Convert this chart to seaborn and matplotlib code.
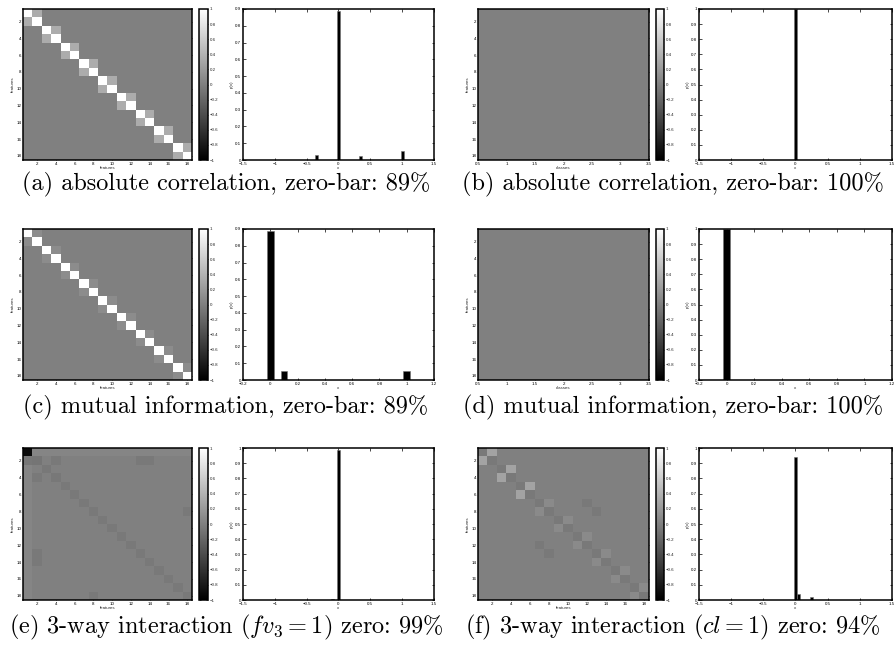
import numpy as np
import pandas as pd
import matplotlib
matplotlib.use("Agg")
import matplotlib.pyplot as plt
import seaborn as sns

# ---------------- data ----------------
n_features = 18
n_classes = 3
feature_ticks = [2, 4, 6, 8, 10, 12, 14, 16, 18]
class_ticks = [0.5, 1, 1.5, 2, 2.5, 3, 3.5]
cbar_ticks = [-1, -0.8, -0.6, -0.4, -0.2, 0, 0.2, 0.4, 0.6, 0.8, 1]

# (a) absolute correlation: diagonal and 2x2-block partner values
a_diag = [1.0] * 18
a_pair = [0.35, 0.35, 0.35, 0.35, 0.35, 0.35, 0.35, 0.35, 0.35]
# (c) mutual information
c_diag = [1.0] * 18
c_pair = [0.1, 0.1, 0.1, 0.1, 0.1, 0.1, 0.1, 0.1, 0.1]
# (e) 3-way interaction fv3=1 : (row, col, value), 1-based
e_cells = [(1, 1, -0.92), (2, 1, -0.07), (2, 2, -0.08), (2, 4, -0.05),
           (2, 13, -0.05), (2, 14, -0.05), (3, 3, -0.06), (4, 2, -0.05),
           (4, 4, -0.06), (5, 5, -0.05), (6, 6, -0.05), (7, 7, -0.05),
           (8, 8, -0.05), (9, 9, -0.05), (10, 10, -0.05), (11, 11, -0.05),
           (12, 12, -0.05), (13, 13, -0.05), (14, 14, -0.05), (15, 15, -0.05),
           (16, 16, -0.05), (17, 17, -0.05), (18, 18, -0.05), (8, 18, -0.05),
           (18, 8, -0.05), (13, 2, -0.05), (14, 2, -0.05)]
e_row1_level = 0.04
e_col1_level = 0.04
# (f) 3-way interaction cl=1
f_diag = [-0.05] * 18
f_pair = [0.28, 0.28, 0.28, 0.08, 0.08, 0.08, 0.08, 0.08, 0.08]
f_extra = [(7, 12, -0.05), (8, 13, -0.05), (12, 7, -0.05), (13, 8, -0.05)]

# histograms p(x)
bar_a_x = [-0.35, 0.0, 0.35, 1.0]
bar_a_y = [0.031, 0.889, 0.025, 0.056]
bar_b_x = [0.0]
bar_b_y = [1.0]
bar_c_x = [0.0, 0.1, 1.0]
bar_c_y = [0.889, 0.056, 0.056]
bar_d_x = [0.0]
bar_d_y = [1.0]
bar_e_x = [-0.1, 0.0]
bar_e_y = [0.008, 0.986]
bar_f_x = [0.0, 0.047, 0.25]
bar_f_y = [0.944, 0.038, 0.018]

captions = [
    "(a) absolute correlation, zero-bar: 89%",
    "(b) absolute correlation, zero-bar: 100%",
    "(c) mutual information, zero-bar: 89%",
    "(d) mutual information, zero-bar: 100%",
    r"(e) 3-way interaction ($fv_3 = 1$) zero: 99%",
    r"(f) 3-way interaction ($cl = 1$) zero: 94%",
]


def block_matrix(diag, pair):
    m = np.zeros((n_features, n_features))
    for i, v in enumerate(diag):
        m[i, i] = v
    for k, v in enumerate(pair):
        m[2 * k, 2 * k + 1] = v
        m[2 * k + 1, 2 * k] = v
    return m


mat_a = block_matrix(a_diag, a_pair)
mat_c = block_matrix(c_diag, c_pair)
mat_e = np.zeros((n_features, n_features))
mat_e[0, :] = e_row1_level
mat_e[:, 0] = e_col1_level
for r, c, v in e_cells:
    mat_e[r - 1, c - 1] = v
mat_f = block_matrix(f_diag, f_pair)
for r, c, v in f_extra:
    mat_f[r - 1, c - 1] = v
mat_b = np.zeros((n_features, n_classes))
mat_d = np.zeros((n_features, n_classes))

# ---------------- style ----------------
sns.set_theme(style="white")
plt.rcParams["font.family"] = ["Liberation Sans", "DejaVu Sans"]
plt.rcParams["mathtext.fontset"] = "cm"

W, H = 895, 649
fig = plt.figure(figsize=(W / 100, H / 100), dpi=100)
fig.patch.set_facecolor("white")


def rect(l, t, r, b):
    return [l / W, 1 - b / H, (r - l) / W, (b - t) / H]


TICK_FS = 3.2
LW = 1.1


def style_axes(ax):
    for s in ax.spines.values():
        s.set_visible(True)
        s.set_color("black")
        s.set_linewidth(LW)
    ax.tick_params(direction="in", top=True, right=True, bottom=True, left=True,
                   length=1.8, width=0.5, labelsize=TICK_FS, pad=1.2, colors="black")


def fmt(v):
    return ("%g" % v).replace("-", "\u2212")


def draw_heat(ax, cax, mat, xlabel, classes=False):
    sns.heatmap(mat, cmap="gray", vmin=-1, vmax=1, ax=ax, cbar_ax=cax,
                xticklabels=False, yticklabels=False)
    style_axes(ax)
    ax.set_yticks([k - 0.5 for k in feature_ticks])
    ax.set_yticklabels([str(k) for k in feature_ticks], rotation=0)
    if classes:
        ax.set_xticks([t - 0.5 for t in class_ticks])
        ax.set_xticklabels([fmt(t) for t in class_ticks], rotation=0)
    else:
        ax.set_xticks([k - 0.5 for k in feature_ticks])
        ax.set_xticklabels([str(k) for k in feature_ticks], rotation=0)
    ax.set_xlabel(xlabel, fontsize=TICK_FS, labelpad=0.5)
    ax.set_ylabel("features", fontsize=TICK_FS, labelpad=1)
    cb = ax.collections[0].colorbar
    cb.outline.set_visible(True)
    cb.outline.set_linewidth(LW)
    cb.outline.set_edgecolor("black")
    cb.set_ticks(cbar_ticks)
    cb.set_ticklabels([fmt(t) for t in cbar_ticks])
    cax.tick_params(direction="in", left=True, right=True, length=1.5, width=0.5,
                    labelsize=TICK_FS, pad=1.2)


def draw_bar(ax, xs, ys, xlim, xticks, ylim, yticks, bar_w):
    spacing = np.min(np.diff(sorted(xs))) if len(xs) > 1 else 1.0
    df = pd.DataFrame({"x": xs, "p(x)": ys})
    sns.barplot(data=df, x="x", y="p(x)", native_scale=True, color="black",
                saturation=1, width=bar_w / spacing, errorbar=None, ax=ax,
                edgecolor="0.45", linewidth=0.4)
    ax.set_facecolor("white")
    style_axes(ax)
    ax.set_xlim(*xlim)
    ax.set_ylim(*ylim)
    ax.set_xticks(xticks)
    ax.set_xticklabels([fmt(t) for t in xticks])
    ax.set_yticks(yticks)
    ax.set_yticklabels([fmt(t) for t in yticks])
    ax.set_xlabel("x", fontsize=TICK_FS, labelpad=0.5)
    ax.set_ylabel("p(x)", fontsize=TICK_FS, labelpad=1)


xt15 = [-1.5, -1, -0.5, 0, 0.5, 1, 1.5]
xt12 = [-0.2, 0, 0.2, 0.4, 0.6, 0.8, 1, 1.2]
yt09 = [0, 0.1, 0.2, 0.3, 0.4, 0.5, 0.6, 0.7, 0.8, 0.9]
yt10 = [0, 0.1, 0.2, 0.3, 0.4, 0.5, 0.6, 0.7, 0.8, 0.9, 1]

rows = [(9, 160), (229, 380), (448, 600)]
cap_y = [184, 407, 627]
left_cols = dict(h=(23, 192), c=(199, 208), b=(243, 434))
right_cols = dict(h=(478, 649), c=(656, 664), b=(699, 892))

panels = [
    (0, left_cols, mat_a, "features", False, bar_a_x, bar_a_y, (-1.5, 1.5), xt15, (0, 0.9), yt09, 0.05),
    (0, right_cols, mat_b, "classes", True, bar_b_x, bar_b_y, (-1.5, 1.5), xt15, (0, 1), yt10, 0.06),
    (1, left_cols, mat_c, "features", False, bar_c_x, bar_c_y, (-0.2, 1.2), xt12, (0, 0.9), yt09, 0.05),
    (1, right_cols, mat_d, "classes", True, bar_d_x, bar_d_y, (-0.2, 1.2), xt12, (0, 1), yt10, 0.055),
    (2, left_cols, mat_e, "features", False, bar_e_x, bar_e_y, (-1.5, 1.5), xt15, (0, 1), yt10, 0.05),
    (2, right_cols, mat_f, "features", False, bar_f_x, bar_f_y, (-1.5, 1.5), xt15, (0, 1), yt10, 0.045),
]

cap_x = {0: 226, 1: 673}
for i, (r, cols, mat, xl, cls, bx, by, xlim, xt, ylim, yt, bw) in enumerate(panels):
    t, b = rows[r]
    ax_h = fig.add_axes(rect(cols["h"][0], t, cols["h"][1], b))
    ax_c = fig.add_axes(rect(cols["c"][0], t, cols["c"][1], b))
    ax_b = fig.add_axes(rect(cols["b"][0], t, cols["b"][1], b))
    draw_heat(ax_h, ax_c, mat, xl, classes=cls)
    draw_bar(ax_b, bx, by, xlim, xt, ylim, yt, bw)
    cx = cap_x[0] if cols is left_cols else cap_x[1]
    fig.text(cx / W, 1 - cap_y[r] / H, captions[i], ha="center", va="center",
             fontsize=17.5, family="cmr10", color="black")

fig.savefig("out.png", dpi=100, facecolor="white")
